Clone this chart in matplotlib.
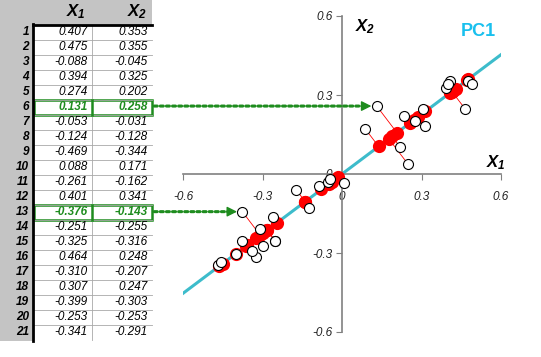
import numpy as np
import matplotlib.pyplot as plt
from matplotlib.patches import Rectangle
from matplotlib.transforms import blended_transform_factory

plt.rcParams['font.family'] = ['Liberation Sans', 'DejaVu Sans']
plt.rcParams['mathtext.fontset'] = 'custom'
plt.rcParams['mathtext.it'] = 'Liberation Sans:bold:italic'
plt.rcParams['mathtext.rm'] = 'Liberation Sans:bold:italic'

# table rows (shown on the left)
x1_tab = [0.407, 0.475, -0.088, 0.394, 0.274, 0.131, -0.053, -0.124, -0.469, 0.088,
          -0.261, 0.401, -0.376, -0.251, -0.325, 0.464, -0.310, 0.307, -0.399, -0.253, -0.341]
x2_tab = [0.353, 0.355, -0.045, 0.325, 0.202, 0.258, -0.031, -0.128, -0.344, 0.171,
          -0.162, 0.341, -0.143, -0.255, -0.316, 0.248, -0.207, 0.247, -0.303, -0.253, -0.291]
# further points in the scatter that are not in the visible table
x1_more = [0.219, 0.248, 0.235, 0.313, 0.492, 0.006, -0.045, -0.172, -0.376, -0.300, -0.455]
x2_more = [0.103, 0.039, 0.221, 0.182, 0.341, -0.036, -0.020, -0.061, -0.256, -0.275, -0.335]
highlight = [6, 13]

x1 = np.array(x1_tab + x1_more)
x2 = np.array(x2_tab + x2_more)

# PC1 direction from the data
X = np.column_stack([x1, x2])
w, v = np.linalg.eigh(np.cov(X.T))
d = v[:, np.argmax(w)]
if d[0] < 0:
    d = -d
t = X @ d
proj = np.outer(t, d)

W, H = 541, 357
fig = plt.figure(figsize=(W / 100, H / 100), dpi=100)

# ---- table drawn in pixel coordinates
tab = fig.add_axes([0, 0, 1, 1])
tab.set_xlim(0, W)
tab.set_ylim(H, 0)
tab.axis('off')

gray = '#c4c4c4'
top, rh = 24.5, 15
c0, c1, c2 = 33, 92, 152
nrow = len(x1_tab)
bot = top + nrow * rh
tab.add_patch(Rectangle((0, 0), c2, top, fc=gray, ec='none'))
tab.add_patch(Rectangle((0, top), c0, bot - top + 1, fc=gray, ec='none'))
for i in range(1, nrow):
    tab.plot([c0, c2], [top + i * rh] * 2, color='#a8a8a8', lw=0.6)
tab.plot([c1, c1], [top, bot], color='#a8a8a8', lw=0.6)
tab.plot([c0, c0], [top - 1, bot + 1], color='black', lw=2)
tab.plot([c0, c2], [top, top], color='black', lw=2)

tab.text(86, 12, '$X_1$', ha='right', va='center', fontsize=12)
tab.text(147, 12, '$X_2$', ha='right', va='center', fontsize=12)

green = '#1e8c1e'
for i in range(nrow):
    yc = top + (i + 0.5) * rh
    hl = (i + 1) in highlight
    col = green if hl else 'black'
    wt = 'bold' if hl else 'normal'
    tab.text(29, yc, str(i + 1), ha='right', va='center', fontsize=8.5,
             style='italic', weight='bold')
    tab.text(88, yc, f'{x1_tab[i]:.3f}', ha='right', va='center', fontsize=8.5,
             style='italic', weight=wt, color=col)
    tab.text(148, yc, f'{x2_tab[i]:.3f}', ha='right', va='center', fontsize=8.5,
             style='italic', weight=wt, color=col)
    if hl:
        tab.add_patch(Rectangle((c0 + 1, top + i * rh), c2 - c0 - 1, rh,
                                fc='none', ec=green, lw=1.8))
        tab.plot([c1, c1], [top + i * rh, top + (i + 1) * rh], color=green, lw=1.8)

# ---- scatter plot
ax = fig.add_axes([183 / W, (H - 332) / H, 318 / W, 316 / H])
ax.patch.set_visible(False)
ax.set_xlim(-0.6, 0.6)
ax.set_ylim(-0.6, 0.6)
for s in ['top', 'right']:
    ax.spines[s].set_visible(False)
for s in ['left', 'bottom']:
    ax.spines[s].set_position('zero')
    ax.spines[s].set_color('#808080')
    ax.spines[s].set_linewidth(1.2)
ticks = [-0.6, -0.3, 0, 0.3, 0.6]
labs = ['-0.6', '-0.3', '0', '0.3', '0.6']
ax.set_xticks(ticks, labs)
ax.set_yticks(ticks, labs)
ax.tick_params(axis='x', direction='out', length=4, color='#808080', pad=8, labelsize=8.5)
ax.tick_params(axis='y', direction='out', length=4, color='#808080', pad=3, labelsize=8.5)
for lab in ax.get_xticklabels() + ax.get_yticklabels():
    lab.set_style('italic')
    lab.set_color('#222222')

xs = np.array([-0.6, 0.6])
ax.plot(xs, xs * d[1] / d[0], color='#3dbccb', lw=2.2, zorder=2)

for i in range(len(x1)):
    ax.plot([x1[i], proj[i, 0]], [x2[i], proj[i, 1]], color='red', lw=0.6, zorder=3)
ax.plot(proj[:, 0], proj[:, 1], 'o', color='red', ms=9.5, mec='none', zorder=4)
ax.plot(x1, x2, 'o', mfc='white', mec='black', mew=0.8, ms=7.2, zorder=5)

ax.text(0.545, 0.045, '$X_1$', ha='left', va='center', fontsize=12)
ax.text(0.05, 0.56, '$X_2$', ha='left', va='center', fontsize=12)
ax.text(0.515, 0.54, 'PC1', ha='center', va='center', fontsize=13,
        weight='bold', color='#19c0ee')

# arrows from highlighted rows to their points
tr = blended_transform_factory(fig.transFigure, ax.transData)
for r in highlight:
    px, py = x1_tab[r - 1], x2_tab[r - 1]
    ax.annotate('', xy=(px - 0.035, py), xytext=(c2 / W + 0.004, py),
                textcoords=tr, annotation_clip=False,
                arrowprops=dict(arrowstyle='-', color=green, lw=2.2,
                                linestyle=(0, (1, 1)), shrinkA=0, shrinkB=0))
    ax.annotate('', xy=(px - 0.02, py), xytext=(px - 0.05, py),
                annotation_clip=False,
                arrowprops=dict(arrowstyle='-|>,head_length=0.6,head_width=0.3',
                                color=green, lw=1, shrinkA=0, shrinkB=0))

fig.savefig('out.png', dpi=100)
